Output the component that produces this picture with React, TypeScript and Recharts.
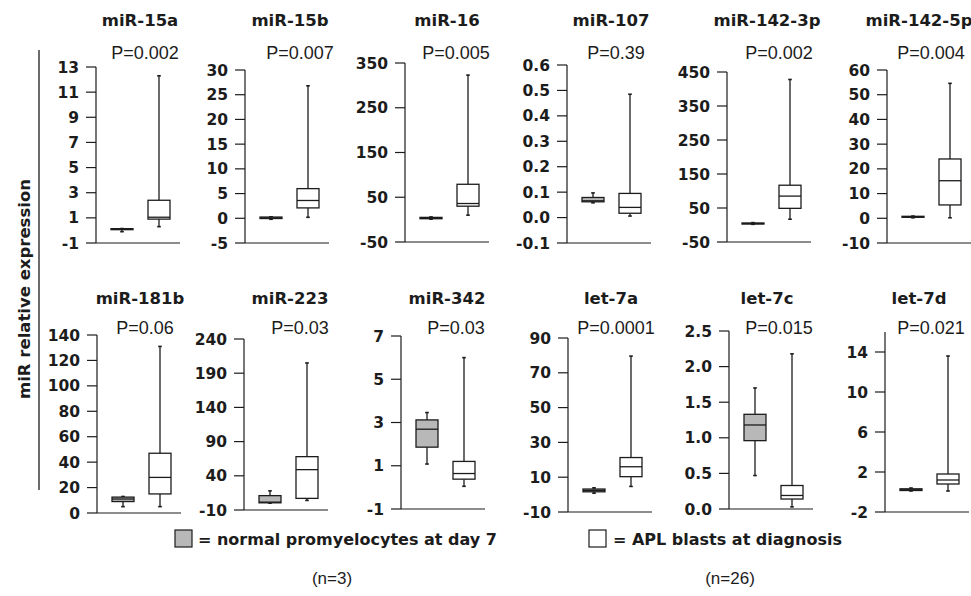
import React from 'react';
import { BarChart, Bar, XAxis, YAxis } from 'recharts';

const INK = '#1c1c1c';
const GRAY = '#b8b8b8';
const BOLD = '"DejaVu Sans", Verdana, sans-serif';
const REG = '"Liberation Sans", Arial, sans-serif';

// ---------- data ----------
const mirNames = ['miR-15a', 'miR-15b', 'miR-16', 'miR-107', 'miR-142-3p', 'miR-142-5p',
  'miR-181b', 'miR-223', 'miR-342', 'let-7a', 'let-7c', 'let-7d'];
const pValues = ['P=0.002', 'P=0.007', 'P=0.005', 'P=0.39', 'P=0.002', 'P=0.004',
  'P=0.06', 'P=0.03', 'P=0.03', 'P=0.0001', 'P=0.015', 'P=0.021'];
const yTicks = [
  [-1, 1, 3, 5, 7, 9, 11, 13],
  [-5, 0, 5, 10, 15, 20, 25, 30],
  [-50, 50, 150, 250, 350],
  [-0.1, 0, 0.1, 0.2, 0.3, 0.4, 0.5, 0.6],
  [-50, 50, 150, 250, 350, 450],
  [-10, 0, 10, 20, 30, 40, 50, 60],
  [0, 20, 40, 60, 80, 100, 120, 140],
  [-10, 40, 90, 140, 190, 240],
  [-1, 1, 3, 5, 7],
  [-10, 10, 30, 50, 70, 90],
  [0, 0.5, 1, 1.5, 2, 2.5],
  [-2, 2, 6, 10, 14],
];
const yMax = [13, 30, 350, 0.6, 450, 60, 140, 240, 7, 90, 2.5, 16];
const tickDecimals = [0, 0, 0, 1, 0, 0, 0, 0, 0, 0, 1, 0];

// [min, Q1, median, Q3, max]
const normalStats = [
  [-0.1, 0.06, 0.1, 0.14, 0.15],
  [-0.2, -0.05, 0.05, 0.25, 0.3],
  [1, 2, 3, 5, 6],
  [0.058, 0.062, 0.066, 0.079, 0.097],
  [2, 3, 4, 6, 7],
  [0.2, 0.4, 0.6, 0.8, 0.9],
  [5, 9, 11, 12.5, 13],
  [0, 0.5, 1.5, 11, 18],
  [1.08, 1.86, 2.69, 3.12, 3.46],
  [0.8, 1.6, 2.4, 3.2, 3.9],
  [0.47, 0.96, 1.18, 1.33, 1.7],
  [0.1, 0.15, 0.22, 0.32, 0.4],
];
const aplStats = [
  [0.3, 0.9, 1.05, 2.4, 12.3],
  [0.2, 2.1, 3.6, 6.0, 26.8],
  [10, 30, 36, 79, 323],
  [0.006, 0.017, 0.04, 0.095, 0.485],
  [17, 49, 85, 117, 428],
  [0.2, 5.4, 15.2, 24, 54.6],
  [5, 15, 28, 47, 131],
  [4, 7, 49, 68, 205],
  [0.05, 0.38, 0.64, 1.2, 6],
  [4.7, 10.3, 16, 21.3, 79.6],
  [0.03, 0.14, 0.19, 0.33, 2.18],
  [0.1, 0.8, 1.2, 1.8, 13.6],
];
const groupLabels = ['normal promyelocytes at day 7', 'APL blasts at diagnosis'];
const groupCounts = ['(n=3)', '(n=26)'];
const axisTitle = 'miR relative expression';

// ---------- layout ----------
const axisX = [96, 245, 405, 567, 727, 887, 97, 244, 401, 568, 729, 885];
const plotTop = [67, 70, 63, 65, 72, 70, 335, 339, 336, 338, 331, 332];
const plotBottom = [243, 243, 242, 243, 242, 243, 513, 510, 509, 512, 509, 512];
const titleX = [140, 290, 447, 611, 767, 919];
const pX = [145, 300, 456, 616, 779, 931];
const titleY = [20, 298];
const pY = [53, 328];

const MT = 12;
const MB = 12;
const XH = 2;
const YW = 60;
const PW = 84;
const MR = 4;

function BoxShape(props: any) {
  const { x, y, width, height, payload } = props;
  if (!payload || !payload.stats) return null;
  const [mn, q1, md, q3, mx] = payload.stats;
  const span = mx - mn;
  const py = (v: number) => y + (height * (mx - v)) / span;
  const cx = x + width / 2;
  const yMx = py(mx);
  const yMn = py(mn);
  const yQ3 = py(q3);
  const yQ1 = py(q1);
  const yMd = py(md);
  const sw = 1.3;
  return (
    <g>
      <line x1={cx} x2={cx} y1={yMx} y2={yQ3} stroke={INK} strokeWidth={sw} />
      <line x1={cx} x2={cx} y1={yQ1} y2={yMn} stroke={INK} strokeWidth={sw} />
      <line x1={cx - 1.8} x2={cx + 1.8} y1={yMx} y2={yMx} stroke={INK} strokeWidth={1.6} />
      <line x1={cx - 1.8} x2={cx + 1.8} y1={yMn} y2={yMn} stroke={INK} strokeWidth={1.6} />
      <rect x={x} y={yQ3} width={width} height={Math.max(yQ1 - yQ3, 0.6)}
        fill={payload.fill} stroke={INK} strokeWidth={sw} />
      <line x1={x} x2={x + width} y1={yMd} y2={yMd} stroke={INK} strokeWidth={sw} />
    </g>
  );
}

function Panel({ i }: { i: number }) {
  const top = plotTop[i];
  const bottom = plotBottom[i];
  const ax = axisX[i];
  const ticks = yTicks[i];
  const data = [
    { group: 'normal', range: [normalStats[i][0], normalStats[i][4]], stats: normalStats[i], fill: GRAY },
    { group: 'apl', range: [aplStats[i][0], aplStats[i][4]], stats: aplStats[i], fill: '#ffffff' },
  ];
  return (
    <div style={{ position: 'absolute', left: ax - YW, top: top - MT }}>
      <BarChart width={YW + PW + MR} height={MT + (bottom - top) + XH + MB} data={data}
        margin={{ top: MT, right: MR, bottom: MB, left: 0 }} barSize={22}>
        <XAxis dataKey="group" tick={false} tickLine={false} height={XH}
          padding={{ left: 7, right: 3 }} axisLine={{ stroke: INK, strokeWidth: 1.2 }} />
        <YAxis type="number" domain={[ticks[0], yMax[i]]} ticks={ticks} interval={0} width={YW}
          tickSize={10} tickMargin={7} allowDataOverflow
          axisLine={{ stroke: INK, strokeWidth: 1.2 }} tickLine={{ stroke: INK, strokeWidth: 1.2 }}
          tick={{ fill: INK, fontFamily: BOLD, fontWeight: 700, fontSize: 15.5 }}
          tickFormatter={(v: number) => v.toFixed(tickDecimals[i])} />
        <Bar dataKey="range" shape={BoxShape} isAnimationActive={false} />
      </BarChart>
    </div>
  );
}

export default function App() {
  return (
    <div style={{ position: 'absolute', left: 0, top: 0, width: 971, height: 596, background: '#fff', overflow: 'hidden' }}>
      <svg width={971} height={596} style={{ position: 'absolute', left: 0, top: 0 }}>
        {mirNames.map((n, i) => (
          <text key={'t' + i} x={titleX[i % 6]} y={titleY[Math.floor(i / 6)]} textAnchor="middle"
            dominantBaseline="central" fontFamily={BOLD} fontWeight={700} fontSize={16.5} fill={INK}>{n}</text>
        ))}
        {pValues.map((p, i) => (
          <text key={'p' + i} x={pX[i % 6]} y={pY[Math.floor(i / 6)]} textAnchor="middle"
            dominantBaseline="central" fontFamily={REG} fontSize={18} fill={INK}>{p}</text>
        ))}
        <line x1={39} x2={39} y1={50} y2={490} stroke={INK} strokeWidth={1.3} />
        <text transform="translate(24,289) rotate(-90)" textAnchor="middle" dominantBaseline="central"
          fontFamily={BOLD} fontWeight={700} fontSize={16.5} fill={INK}>{axisTitle}</text>
        <rect x={175} y={530} width={17} height={17} fill={GRAY} stroke={INK} strokeWidth={1.2} />
        <text x={198} y={539} dominantBaseline="central" fontFamily={BOLD} fontWeight={700} fontSize={16} fill={INK}>{'= ' + groupLabels[0]}</text>
        <text x={332} y={578} textAnchor="middle" dominantBaseline="central" fontFamily={REG} fontSize={17} fill={INK}>{groupCounts[0]}</text>
        <rect x={589} y={530} width={17} height={17} fill="#fff" stroke={INK} strokeWidth={1.2} />
        <text x={613} y={539} dominantBaseline="central" fontFamily={BOLD} fontWeight={700} fontSize={16} fill={INK}>{'= ' + groupLabels[1]}</text>
        <text x={730} y={578} textAnchor="middle" dominantBaseline="central" fontFamily={REG} fontSize={17} fill={INK}>{groupCounts[1]}</text>
      </svg>
      {mirNames.map((_, i) => <Panel key={i} i={i} />)}
    </div>
  );
}
